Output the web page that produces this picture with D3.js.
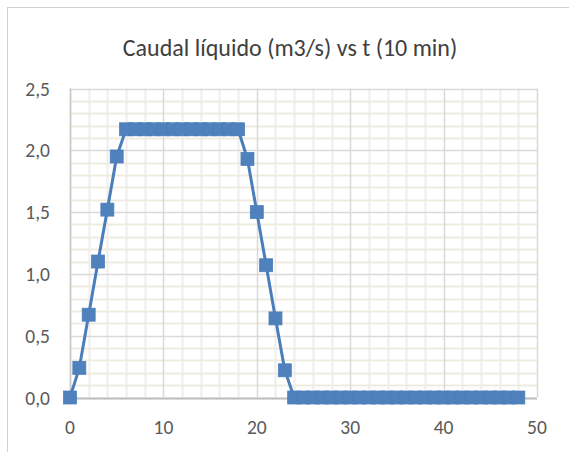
<!DOCTYPE html>
<html><head><meta charset="utf-8">
<script src="https://cdn.jsdelivr.net/npm/d3@7"></script>
<style>body{margin:0;background:#fff;}svg{display:block;}</style>
</head><body>
<script>
const title = "Caudal líquido (m3/s) vs t (10 min)";
const tValues = [0,1,2,3,4,5,6,7,8,9,10,11,12,13,14,15,16,17,18,19,20,21,22,23,24,25,26,27,28,29,30,31,32,33,34,35,36,37,38,39,40,41,42,43,44,45,46,47,48];
const qValues = [0,0.24,0.67,1.10,1.52,1.95,2.17,2.17,2.17,2.17,2.17,2.17,2.17,2.17,2.17,2.17,2.17,2.17,2.17,1.93,1.50,1.07,0.64,0.22,0,0,0,0,0,0,0,0,0,0,0,0,0,0,0,0,0,0,0,0,0,0,0,0,0];
const xTicks = [0,10,20,30,40,50];
const yTicks = [0,0.5,1.0,1.5,2.0,2.5];

const W=569,H=452;
const svg=d3.select("body").append("svg").attr("width",W).attr("height",H);
const font="Carlito, Calibri, Lato, 'Open Sans', sans-serif";
svg.append("rect").attr("x",7.5).attr("y",7.5).attr("width",W).attr("height",H).attr("fill","#fff").attr("stroke","#d0d0d0").attr("stroke-width",1);

const x=d3.scaleLinear().domain([0,50]).range([70,537]);
const y=d3.scaleLinear().domain([0,2.5]).range([397.5,88.5]);

const g=svg.append("g");
g.selectAll(".mv").data(d3.range(0,51,2).filter(v=>v%10)).enter().append("line")
 .attr("x1",d=>Math.round(x(d))+0.5).attr("x2",d=>Math.round(x(d))+0.5).attr("y1",y(2.5)).attr("y2",y(0))
 .attr("stroke","#eeeeee").attr("stroke-width",2);
g.selectAll(".mh").data(d3.range(0,26).map(v=>v/10).filter((v,i)=>i%5)).enter().append("line")
 .attr("y1",d=>Math.round(y(d))+0.5).attr("y2",d=>Math.round(y(d))+0.5).attr("x1",x(0)).attr("x2",x(50))
 .attr("stroke","#efebdf").attr("stroke-width",2);
g.selectAll(".Mv").data(xTicks).enter().append("line")
 .attr("x1",d=>Math.round(x(d))+0.5).attr("x2",d=>Math.round(x(d))+0.5).attr("y1",y(2.5)).attr("y2",y(0))
 .attr("stroke","#d9d9d9").attr("stroke-width",1.5);
g.selectAll(".Mh").data(yTicks).enter().append("line")
 .attr("y1",d=>Math.round(y(d))+0.5).attr("y2",d=>Math.round(y(d))+0.5).attr("x1",x(0)).attr("x2",x(50))
 .attr("stroke","#d9d9d9").attr("stroke-width",1.5);
g.append("line").attr("x1",x(0)).attr("x2",x(50)).attr("y1",Math.round(y(0))+0.5).attr("y2",Math.round(y(0))+0.5).attr("stroke","#bfbfbf").attr("stroke-width",2);
g.append("line").attr("x1",Math.round(x(0))+0.5).attr("x2",Math.round(x(0))+0.5).attr("y1",y(0)).attr("y2",y(2.5)).attr("stroke","#c8c8c8").attr("stroke-width",1.5);

const fmt=d=>d3.format(".1f")(d).replace(".",",");
svg.selectAll(".yl").data(yTicks).enter().append("text")
 .attr("x",50).attr("y",d=>y(d)+7).attr("text-anchor","end")
 .attr("font-family",font).attr("font-size",19.5).attr("fill","#595959").text(fmt);
svg.selectAll(".xl").data(xTicks).enter().append("text")
 .attr("x",d=>x(d)).attr("y",434).attr("text-anchor","middle")
 .attr("font-family",font).attr("font-size",19.5).attr("fill","#595959").text(d=>d);

svg.append("text").attr("x",290).attr("y",56).attr("text-anchor","middle")
 .attr("font-family",font).attr("font-size",24).attr("fill","#404040").text(title);

const data=tValues.map((t,i)=>({t,q:qValues[i]}));
const line=d3.line().x(d=>x(d.t)).y(d=>y(d.q));
svg.append("path").datum(data).attr("d",line).attr("fill","none").attr("stroke","#4a7ebb").attr("stroke-width",3).attr("stroke-linejoin","round");
const s=13;
svg.selectAll(".m").data(data).enter().append("rect")
 .attr("x",d=>x(d.t)-s/2).attr("y",d=>y(d.q)-s/2).attr("width",s).attr("height",s)
 .attr("fill","#4f81bd").attr("stroke","#4a7ebb").attr("stroke-width",0.75);
</script>
</body></html>
